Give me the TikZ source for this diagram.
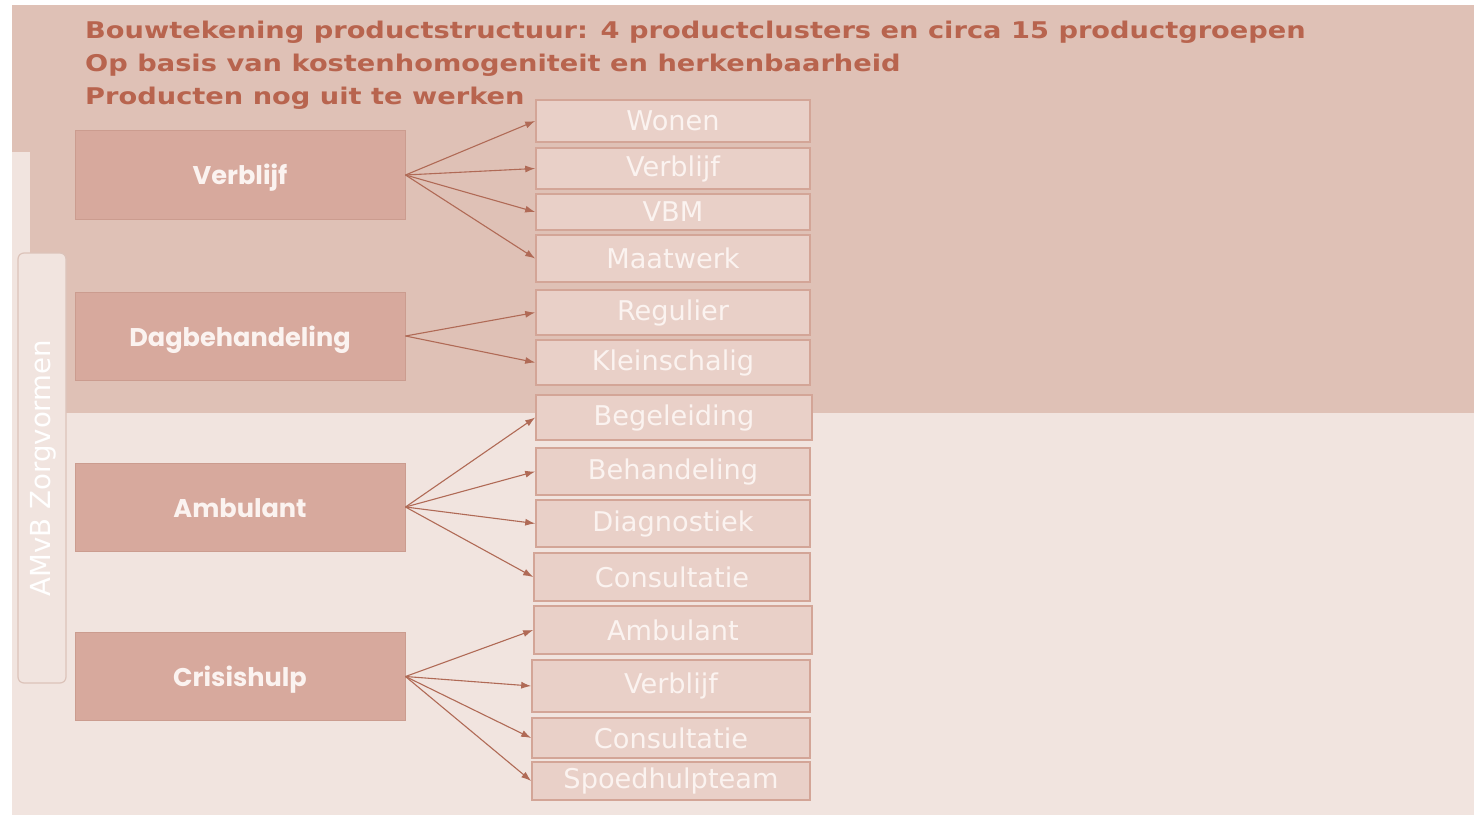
\documentclass[tikz,border=0pt]{standalone}
\usepackage{fontspec}
\usetikzlibrary{arrows.meta}
\newfontfamily\titlefont[FakeStretch=1.185]{DejaVu Sans Bold}
\newfontfamily\boxfont{DejaVu Sans}
\newfontfamily\clfont{Poppins}
\definecolor{topbg}{HTML}{DFC1B6}
\definecolor{botbg}{HTML}{F1E4DF}
\definecolor{clfill}{HTML}{D7A99D}
\definecolor{cldraw}{HTML}{CB9C8F}
\definecolor{chfill}{HTML}{E9D0C8}
\definecolor{chdraw}{HTML}{D3A597}
\definecolor{titlecol}{HTML}{B8644E}
\definecolor{arrcol}{HTML}{B06A56}
\definecolor{txtwhite}{HTML}{FBF3F0}
\definecolor{sidedraw}{HTML}{DCC3BA}
\tikzset{
  cluster/.style={draw=cldraw, fill=clfill, line width=1pt, minimum width=330pt, minimum height=88pt, inner sep=0pt, text=txtwhite, font=\clfont\bfseries\fontsize{25.6}{30}\selectfont},
  child/.style={draw=chdraw, fill=chfill, line width=1.6pt, inner sep=0pt, text=txtwhite, font=\boxfont\fontsize{27.2}{31}\selectfont},
  titletext/.style={anchor=base west, inner sep=0pt, text=titlecol, font=\titlefont\fontsize{23}{27}\selectfont},
  link/.style={draw=arrcol, line width=1.1pt, -{Latex[length=10pt,width=7pt]}}
}
\newcommand{\cltext}[1]{\raisebox{-10pt}[0pt][0pt]{#1}}
\begin{document}
\begin{tikzpicture}[x=1pt,y=-1pt]
\useasboundingbox (0,0) rectangle (1474,821);
\fill[white] (0,0) rectangle (1474,821);
\fill[botbg] (12,5) rectangle (1474,815);
\fill[topbg] (30,5) rectangle (1474,413);
\fill[topbg] (12,5) rectangle (30,152);
% vertical label box
\node[draw=sidedraw, fill=botbg, rounded corners=6pt, line width=1.2pt, minimum width=48pt, minimum height=430pt, inner sep=0pt] (side) at (42,468) {};
\node[rotate=90, text=white, font=\boxfont\fontsize{27.6}{31}\selectfont, inner sep=0pt] (sidelabel) at ([xshift=1.5pt]side.center) {AMvB Zorgvormen};
% title
\node[titletext] (t1) at (85,39) {Bouwtekening productstructuur: 4 productclusters en circa 15 productgroepen};
\node[titletext] (t2) at (85,72) {Op basis van kostenhomogeniteit en herkenbaarheid};
\node[titletext] (t3) at (85,105) {Producten nog uit te werken};
% clusters
\node[cluster] (verblijf) at (240,175) {\cltext{Verblijf}};
\node[cluster] (dag) at (240,336) {\cltext{Dagbehandeling}};
\node[cluster] (amb) at (240,507) {\cltext{Ambulant}};
\node[cluster] (crisis) at (240,676.5) {\cltext{Crisishulp}};
% children
\node[child, minimum width=274pt, minimum height=42pt] (c1) at (673,121) {Wonen};
\node[child, minimum width=274pt, minimum height=41pt] (c2) at (673,168.5) {Verblijf};
\node[child, minimum width=274pt, minimum height=36pt] (c3) at (673,212) {VBM};
\node[child, minimum width=274pt, minimum height=47pt] (c4) at (673,258.5) {Maatwerk};
\node[child, minimum width=274pt, minimum height=45pt] (c5) at (673,312.5) {Regulier};
\node[child, minimum width=274pt, minimum height=45pt] (c6) at (673,362.5) {Kleinschalig};
\node[child, minimum width=276pt, minimum height=45pt] (c7) at (674,417.5) {Begeleiding};
\node[child, minimum width=274pt, minimum height=47pt] (c8) at (673,471.5) {Behandeling};
\node[child, minimum width=274pt, minimum height=47pt] (c9) at (673,523.5) {Diagnostiek};
\node[child, minimum width=276pt, minimum height=48pt] (c10) at (672,577) {Consultatie};
\node[child, minimum width=278pt, minimum height=48pt] (c11) at (673,630) {Ambulant};
\node[child, minimum width=278pt, minimum height=52pt] (c12) at (671,686) {Verblijf};
\node[child, minimum width=278pt, minimum height=40pt] (c13) at (671,738) {Consultatie};
\node[child, minimum width=278pt, minimum height=38pt] (c14) at (671,781) {Spoedhulpteam};
% links
\foreach \c in {c1,c2,c3,c4} \draw[link] (verblijf.east) -- (\c.west);
\foreach \c in {c5,c6} \draw[link] (dag.east) -- (\c.west);
\foreach \c in {c7,c8,c9,c10} \draw[link] (amb.east) -- (\c.west);
\foreach \c in {c11,c12,c13,c14} \draw[link] (crisis.east) -- (\c.west);
\end{tikzpicture}
\end{document}
